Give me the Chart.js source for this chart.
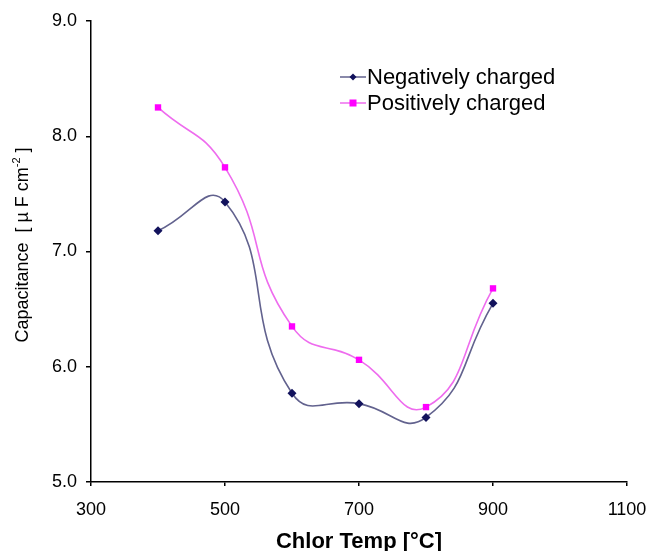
<!DOCTYPE html>
<html>
<head>
    <title>Capacitance vs Chlor Temp</title>
    <script src="https://cdn.jsdelivr.net/npm/chart.js@4.4.0/dist/chart.umd.min.js"></script>
    <style>
        html, body { margin: 0; padding: 0; background: #fff; }
        #wrap { width: 649px; height: 551px; }
    </style>
</head>
<body>
<div id="wrap"><canvas id="myChart" width="649" height="551"></canvas></div>

<script>
// data
const chlorTemps = [400, 500, 600, 700, 800, 900];
const negativelyCharged = [7.18, 7.43, 5.77, 5.68, 5.56, 6.55];
const positivelyCharged = [8.25, 7.73, 6.35, 6.06, 5.65, 6.68];
const xTicks = [300, 500, 700, 900, 1100];
const yTicks = [5.0, 6.0, 7.0, 8.0, 9.0];
const seriesNames = ['Negatively charged', 'Positively charged'];

const FONT = '"Liberation Sans", Arial, sans-serif';

// axis titles + legend drawn by hand so they sit where the original puts them
const extras = {
    id: 'extras',
    afterDraw(chart) {
        const ctx = chart.ctx;
        const area = chart.chartArea;
        ctx.save();
        ctx.fillStyle = '#000';

        // x title
        ctx.font = 'bold 22px ' + FONT;
        ctx.textAlign = 'center';
        ctx.textBaseline = 'alphabetic';
        ctx.fillText('Chlor Temp [°C]', (area.left + area.right) / 2, 548);

        // y title with superscript
        ctx.save();
        ctx.translate(23, 245);
        ctx.rotate(-Math.PI / 2);
        ctx.textBaseline = 'middle';
        ctx.textAlign = 'left';
        const big = '18px ' + FONT, small = '11px ' + FONT;
        const p1 = 'Capacitance  [ \u00b5 F cm', p2 = '-2', p3 = ' ]';
        ctx.font = big; const w1 = ctx.measureText(p1).width, w3 = ctx.measureText(p3).width;
        ctx.font = small; const w2 = ctx.measureText(p2).width;
        let x = -(w1 + w2 + w3) / 2;
        ctx.font = big; ctx.fillText(p1, x, 0); x += w1;
        ctx.font = small; ctx.fillText(p2, x, -6); x += w2;
        ctx.font = big; ctx.fillText(p3, x, 0);
        ctx.restore();

        // legend
        ctx.font = '22px ' + FONT;
        ctx.textAlign = 'left';
        ctx.textBaseline = 'middle';
        const rows = [77, 103];
        chart.data.datasets.forEach((ds, i) => {
            const y = rows[i];
            ctx.strokeStyle = ds.borderColor;
            ctx.lineWidth = 1.5;
            ctx.beginPath();
            ctx.moveTo(340, y);
            ctx.lineTo(366, y);
            ctx.stroke();
            ctx.fillStyle = ds.pointBackgroundColor;
            if (ds.pointStyle === 'rectRot') {
                ctx.beginPath();
                ctx.moveTo(353, y - 3.5); ctx.lineTo(356.5, y); ctx.lineTo(353, y + 3.5); ctx.lineTo(349.5, y);
                ctx.closePath(); ctx.fill();
            } else {
                ctx.fillRect(349.5, y - 3.5, 7, 7);
            }
            ctx.fillStyle = '#000';
            ctx.fillText(ds.label, 367, y + 1);
        });
        ctx.restore();
    }
};

const ctx = document.getElementById('myChart').getContext('2d');
const myChart = new Chart(ctx, {
    type: 'line',
    data: {
        datasets: [{
            label: seriesNames[0],
            data: chlorTemps.map((t, i) => ({ x: t, y: negativelyCharged[i] })),
            borderColor: '#62628e',
            borderWidth: 1.6,
            pointStyle: 'rectRot',
            pointRadius: 4.5,
            pointBackgroundColor: '#12125c',
            pointBorderColor: '#12125c',
            pointBorderWidth: 0,
            tension: 0.5
        }, {
            label: seriesNames[1],
            data: chlorTemps.map((t, i) => ({ x: t, y: positivelyCharged[i] })),
            borderColor: '#ee6cee',
            borderWidth: 1.6,
            pointStyle: 'rect',
            pointRadius: 4.5,
            pointBackgroundColor: '#ff00ff',
            pointBorderColor: '#ff00ff',
            pointBorderWidth: 0,
            tension: 0.5
        }]
    },
    options: {
        responsive: false,
        animation: false,
        layout: { padding: { top: 21, right: 22, left: 0, bottom: 0 } },
        plugins: { legend: { display: false }, tooltip: { enabled: false } },
        scales: {
            x: {
                type: 'linear',
                min: 300, max: 1100,
                afterBuildTicks: s => { s.ticks = xTicks.map(v => ({ value: v })); },
                afterFit: s => { s.height = 69; s.paddingLeft = 0; s.paddingRight = 0; },
                grid: { drawOnChartArea: false, drawTicks: true, tickLength: 4, color: '#000', lineWidth: 1.5 },
                border: { color: '#000', width: 1.5 },
                ticks: { color: '#000', font: { family: FONT, size: 18 }, padding: 13, maxRotation: 0, callback: v => String(v) }
            },
            y: {
                min: 5, max: 9,
                afterBuildTicks: s => { s.ticks = yTicks.map(v => ({ value: v })); },
                afterFit: s => { s.width = 91; s.paddingTop = 0; s.paddingBottom = 0; },
                grid: { drawOnChartArea: false, drawTicks: true, tickLength: 5, color: '#000', lineWidth: 1.5 },
                border: { color: '#000', width: 1.5 },
                ticks: { color: '#000', font: { family: FONT, size: 18 }, padding: 9, callback: v => v.toFixed(1) }
            }
        }
    },
    plugins: [extras]
});
</script>
</body>
</html>
